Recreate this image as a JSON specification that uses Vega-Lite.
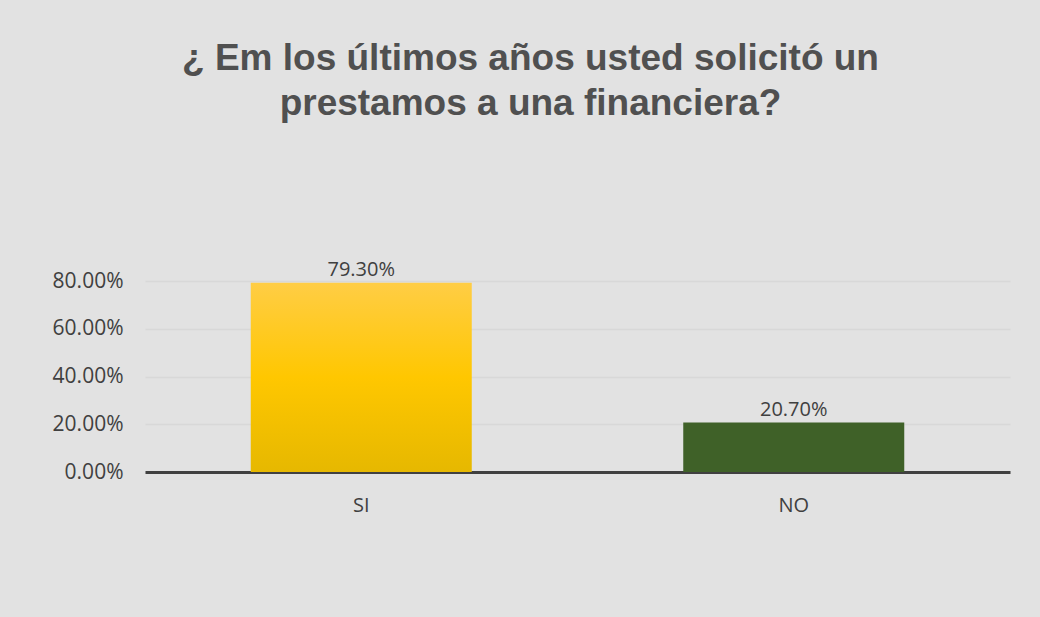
{
  "$schema": "https://vega.github.io/schema/vega-lite/v6.json",
  "autosize": "none",
  "width": 865,
  "height": 191,
  "padding": {"left": 145, "top": 281, "right": 30, "bottom": 145},
  "background": "#e2e2e2",
  "title": {
    "text": ["¿ Em los últimos años usted solicitó un", "prestamos a una financiera?"],
    "font": "Liberation Sans",
    "fontSize": 37,
    "fontWeight": "bold",
    "color": "#505050",
    "lineHeight": 45,
    "anchor": "middle",
    "dx": -47,
    "offset": 137
  },
  "data": {
    "values": [
      {"respuesta": "SI", "porcentaje": 0.793},
      {"respuesta": "NO", "porcentaje": 0.207}
    ]
  },
  "encoding": {
    "x": {
      "field": "respuesta",
      "type": "nominal",
      "sort": ["SI", "NO"],
      "scale": {"paddingInner": 0, "paddingOuter": 0},
      "axis": {
        "title": null,
        "labelAngle": 0,
        "labelFont": "Open Sans",
        "labelFontSize": 20,
        "labelColor": "#404040",
        "labelPadding": 23,
        "ticks": false,
        "domainColor": "#404040",
        "domainWidth": 3
      }
    },
    "y": {
      "field": "porcentaje",
      "type": "quantitative",
      "scale": {"domain": [0, 0.8], "nice": false},
      "axis": {
        "title": null,
        "format": ".2%",
        "values": [0, 0.2, 0.4, 0.6, 0.8],
        "labelFont": "Open Sans",
        "labelFontSize": 21,
        "labelColor": "#404040",
        "labelPadding": 22,
        "ticks": false,
        "domain": false,
        "grid": true,
        "gridColor": "#d8d8d8",
        "gridWidth": 1.5
      }
    }
  },
  "layer": [
    {
      "transform": [{"filter": "datum.respuesta == 'SI'"}],
      "mark": {
        "type": "bar",
        "size": 221,
        "color": {
          "gradient": "linear",
          "x1": 0, "y1": 0, "x2": 0, "y2": 1,
          "stops": [
            {"offset": 0, "color": "#ffcd45"},
            {"offset": 0.5, "color": "#ffc700"},
            {"offset": 1, "color": "#e6b800"}
          ]
        }
      }
    },
    {
      "transform": [{"filter": "datum.respuesta == 'NO'"}],
      "mark": {"type": "bar", "size": 221, "color": "#3f6128"}
    },
    {
      "mark": {
        "type": "text",
        "baseline": "bottom",
        "dy": -3,
        "font": "Open Sans",
        "fontSize": 20,
        "color": "#404040"
      },
      "encoding": {
        "text": {"field": "porcentaje", "type": "quantitative", "format": ".2%"}
      }
    }
  ],
  "config": {
    "view": {"stroke": null}
  }
}
